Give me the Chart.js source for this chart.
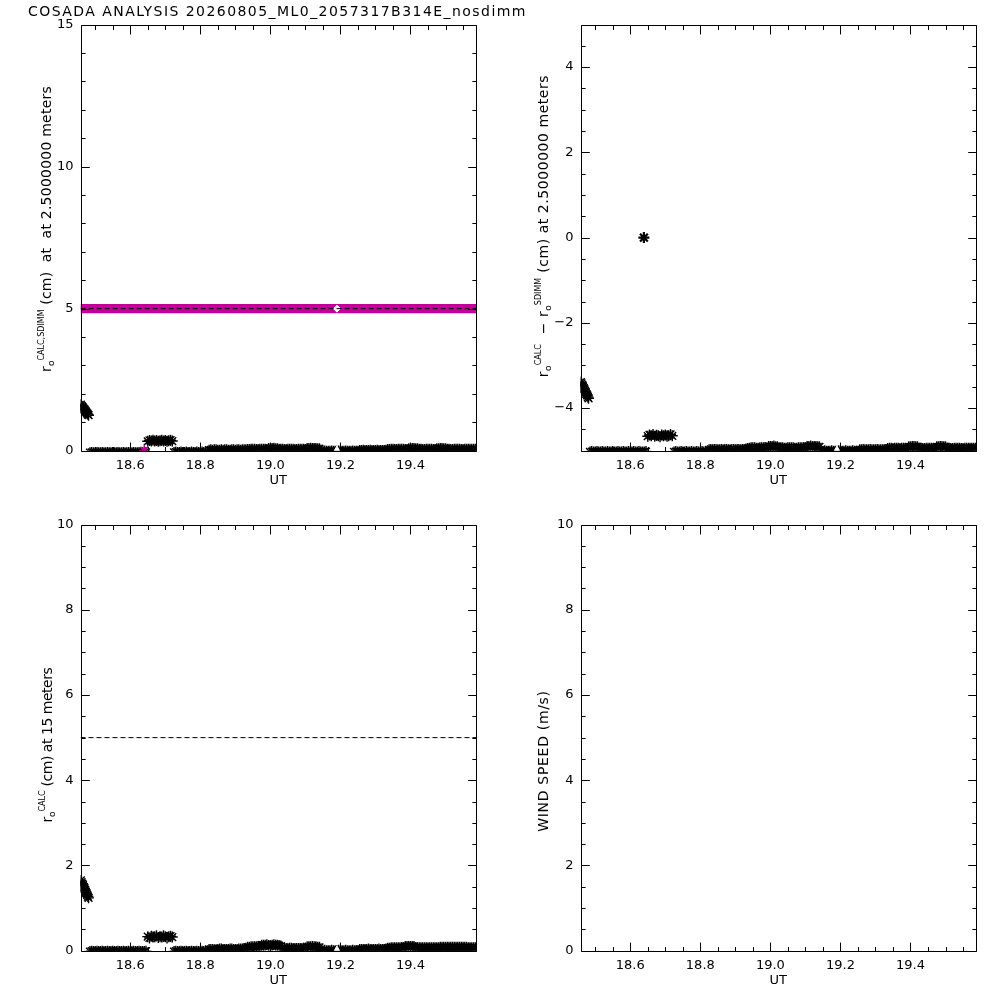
<!DOCTYPE html>
<html><head><meta charset="utf-8">
<script src="https://cdn.jsdelivr.net/npm/chart.js@4.4.1/dist/chart.umd.min.js"></script>
<style>
html,body{margin:0;padding:0;background:#fff;}
#wrap{position:relative;width:1000px;height:1000px;overflow:hidden;background:#fff;}
canvas{position:absolute;}
.lbl{position:absolute;white-space:nowrap;font-family:'DejaVu Sans',sans-serif;font-size:14px;line-height:16px;color:#000;}
.rot{transform:translate(-50%,-50%) rotate(-90deg);}
.s{position:relative;letter-spacing:0;}
.sup{top:-7px;font-size:8px;}
.sub{top:3px;font-size:9px;}
</style></head>
<body><div id="wrap">
<canvas id="c1" width="500" height="500" style="left:0;top:0"></canvas>
<canvas id="c2" width="500" height="500" style="left:500px;top:0"></canvas>
<canvas id="c3" width="500" height="500" style="left:0;top:500px"></canvas>
<canvas id="c4" width="500" height="500" style="left:500px;top:500px"></canvas>
<div id="title" class="lbl" style="left:28px;top:3px;">COSADA ANALYSIS 20260805_ML0_2057317B314E_nosdimm</div>
<div id="yl1" class="lbl rot" style="left:47px;top:229px">r<span class="s sub">o</span><span class="s sup">CALC,SDIMM</span> (cm)&nbsp; at&nbsp; at 2.5000000 meters</div>
<div id="yl2" class="lbl rot" style="left:544px;top:226px">r<span class="s sub">o</span><span class="s sup">CALC</span>&nbsp; − r<span class="s sub">o</span><span class="s sup">SDIMM</span> (cm) at 2.5000000 meters</div>
<div id="yl3" class="lbl rot" style="left:48px;top:745px">r<span class="s sub">o</span><span class="s sup">CALC</span> (cm) at 15 meters</div>
<div id="yl4" class="lbl rot" style="left:543px;top:761px">WIND SPEED (m/s)</div>
</div>
<script>
// ---------------- data ----------------
const utEarly = [18.459,18.461,18.463,18.465,18.467,18.469,18.471,18.473,18.475,18.477,18.479,18.481];
const utBand1 = [18.485,18.490,18.495,18.500,18.505,18.510,18.515,18.520,18.525,18.530,18.535,
  18.540,18.545,18.550,18.555,18.560,18.565,18.570,18.575,18.580,18.585,18.590,
  18.595,18.600,18.605,18.610,18.615,18.620,18.625,18.630,18.635,18.640,18.645];
const utCluster = [18.650,18.655,18.660,18.665,18.670,18.675,18.680,18.685,18.690,18.695,18.700,18.705,18.710,18.715,18.720];
const utBand2 = [
  18.725,18.730,18.735,18.740,18.745,18.750,18.755,18.760,18.765,18.770,18.775,18.780,18.785,18.790,18.795,18.800,18.805,18.810,18.815,18.820,
  18.825,18.830,18.835,18.840,18.845,18.850,18.855,18.860,18.865,18.870,18.875,18.880,18.885,18.890,18.895,18.900,18.905,18.910,18.915,18.920,
  18.925,18.930,18.935,18.940,18.945,18.950,18.955,18.960,18.965,18.970,18.975,18.980,18.985,18.990,18.995,19.000,19.005,19.010,19.015,19.020,
  19.025,19.030,19.035,19.040,19.045,19.050,19.055,19.060,19.065,19.070,19.075,19.080,19.085,19.090,19.095,19.100,19.105,19.110,19.115,19.120,
  19.125,19.130,19.135,19.140,19.145,19.150,19.155,19.160,19.165,19.170,19.175,19.180,19.185,19.190,19.195,19.200,19.205,19.210,19.215,19.220,
  19.225,19.230,19.235,19.240,19.245,19.250,19.255,19.260,19.265,19.270,19.275,19.280,19.285,19.290,19.295,19.300,19.305,19.310,19.315,19.320,
  19.325,19.330,19.335,19.340,19.345,19.350,19.355,19.360,19.365,19.370,19.375,19.380,19.385,19.390,19.395,19.400,19.405,19.410,19.415,19.420,
  19.425,19.430,19.435,19.440,19.445,19.450,19.455,19.460,19.465,19.470,19.475,19.480,19.485,19.490,19.495,19.500,19.505,19.510,19.515,19.520,
  19.525,19.530,19.535,19.540,19.545,19.550,19.555,19.560,19.565,19.570,19.575,19.580,19.585
];

// r0 CALC,SDIMM at 2.5 m (cm)
const r0Early25 = [1.62,1.58,1.55,1.52,1.48,1.45,1.42,1.38,1.35,1.31,1.28,1.25];
const r0Band1_25 = [-0.07,-0.06,-0.07,-0.07,-0.06,-0.07,-0.07,-0.06,-0.07,-0.07,-0.06,
  -0.07,-0.07,-0.06,-0.07,-0.07,-0.06,-0.07,-0.07,-0.06,-0.07,-0.07,
  -0.06,-0.07,-0.07,-0.06,-0.07,-0.07,-0.06,-0.07,-0.07,-0.07,-0.06];
const r0Cluster25 = [0.33,0.36,0.34,0.37,0.34,0.36,0.33,0.35,0.37,0.34,0.36,0.33,0.35,0.37,0.34];
const r0Band2_25 = [
  -0.06,-0.05,-0.06,-0.06,-0.05,-0.06,-0.06,-0.05,-0.06,-0.06,-0.05,-0.06,-0.06,-0.05,-0.06,-0.06,-0.05,-0.06,-0.05,-0.06,
  0.02,0.03,0.02,0.03,0.03,0.02,0.02,0.03,0.02,0.03,0.03,0.02,0.02,0.03,0.03,0.02,0.03,0.03,0.02,0.03,
  0.03,0.03,0.04,0.04,0.05,0.05,0.05,0.04,0.04,0.05,0.05,0.05,0.05,0.04,0.08,0.08,0.08,0.09,0.07,0.07,
  0.05,0.05,0.05,0.04,0.04,0.05,0.05,0.05,0.05,0.04,0.04,0.05,0.05,0.05,0.05,0.04,0.08,0.08,0.09,0.08,
  0.08,0.08,0.07,0.07,-0.02,-0.02,-0.01,-0.02,-0.02,-0.02,-0.01,-0.02,-0.02,-0.02,-0.01,-0.02,-0.02,-0.02,-0.01,-0.02,
  -0.02,-0.02,-0.01,-0.02,-0.02,-0.02,0.01,0.01,0.02,0.01,0.01,0.01,0.02,0.01,0.01,0.01,0.02,0.01,0.01,0.01,
  0.01,0.02,0.04,0.04,0.05,0.05,0.04,0.04,0.05,0.05,0.05,0.05,0.04,0.04,0.07,0.07,0.08,0.08,0.07,0.07,
  0.05,0.05,0.04,0.04,0.05,0.05,0.05,0.05,0.04,0.04,0.07,0.07,0.08,0.08,0.07,0.07,0.05,0.05,0.04,0.04,
  0.05,0.05,0.05,0.05,0.04,0.04,0.05,0.05,0.05,0.05,0.05,0.05,0.05
];

// r0 CALC - r0 SDIMM at 2.5 m (cm)
const diffEarly = [-3.39,-3.42,-3.46,-3.49,-3.53,-3.56,-3.60,-3.63,-3.67,-3.70,-3.74,-3.77];
const diffBand1 = [-5.03,-5.02,-5.03,-5.03,-5.02,-5.03,-5.03,-5.02,-5.03,-5.03,-5.02,
  -5.03,-5.03,-5.02,-5.03,-5.03,-5.02,-5.03,-5.03,-5.02,-5.03,-5.03,
  -5.02,-5.03,-5.03,-5.02,-5.03,-5.03,-5.02,-5.03,-5.03,-5.03,-5.02];
const diffCluster = [-4.66,-4.63,-4.65,-4.62,-4.66,-4.64,-4.65,-4.67,-4.63,-4.65,-4.63,-4.66,-4.65,-4.62,-4.65];
const diffBand2 = [
  -5.03,-5.02,-5.03,-5.03,-5.02,-5.03,-5.03,-5.02,-5.03,-5.03,-5.02,-5.03,-5.03,-5.02,-5.03,-5.03,-5.02,-5.03,-5.02,-5.03,
  -4.98,-4.97,-4.98,-4.97,-4.97,-4.98,-4.98,-4.97,-4.98,-4.97,-4.97,-4.98,-4.98,-4.97,-4.97,-4.98,-4.97,-4.97,-4.98,-4.97,
  -4.97,-4.96,-4.95,-4.94,-4.93,-4.93,-4.93,-4.94,-4.94,-4.93,-4.93,-4.93,-4.93,-4.94,-4.90,-4.90,-4.90,-4.89,-4.91,-4.91,
  -4.93,-4.93,-4.93,-4.94,-4.94,-4.93,-4.93,-4.93,-4.93,-4.94,-4.94,-4.93,-4.93,-4.93,-4.93,-4.94,-4.90,-4.90,-4.89,-4.90,
  -4.90,-4.90,-4.91,-4.91,-5.01,-5.01,-5.00,-5.01,-5.01,-5.01,-5.00,-5.01,-5.01,-5.01,-5.00,-5.01,-5.01,-5.01,-5.00,-5.01,
  -5.01,-5.01,-5.00,-5.01,-5.01,-5.01,-4.98,-4.98,-4.97,-4.98,-4.98,-4.98,-4.97,-4.98,-4.98,-4.98,-4.97,-4.98,-4.98,-4.98,
  -4.98,-4.97,-4.95,-4.94,-4.94,-4.95,-4.94,-4.94,-4.94,-4.95,-4.94,-4.94,-4.95,-4.95,-4.91,-4.91,-4.90,-4.90,-4.91,-4.91,
  -4.94,-4.94,-4.95,-4.95,-4.94,-4.94,-4.94,-4.94,-4.95,-4.95,-4.91,-4.91,-4.90,-4.90,-4.91,-4.91,-4.94,-4.94,-4.95,-4.95,
  -4.94,-4.94,-4.94,-4.94,-4.95,-4.95,-4.94,-4.94,-4.94,-4.94,-4.94,-4.94,-4.94
];

// r0 CALC at 15 m (cm)
const r0Early15 = [1.65,1.61,1.57,1.54,1.50,1.46,1.42,1.38,1.35,1.31,1.27,1.24];
const r0Band1_15 = [-0.02,-0.01,-0.02,-0.02,-0.01,-0.02,-0.02,-0.01,-0.02,-0.02,-0.01,
  -0.02,-0.02,-0.01,-0.02,-0.02,-0.01,-0.02,-0.02,-0.01,-0.02,-0.02,
  -0.01,-0.02,-0.02,-0.01,-0.02,-0.02,-0.01,-0.02,-0.02,-0.02,-0.01];
const r0Cluster15 = [0.33,0.30,0.34,0.32,0.33,0.35,0.31,0.33,0.32,0.35,0.33,0.30,0.33,0.34,0.32];
const r0Band2_15 = [
  -0.02,-0.01,-0.02,-0.02,-0.01,-0.02,-0.02,-0.01,-0.02,-0.02,-0.01,-0.02,-0.02,-0.01,-0.02,-0.02,-0.01,-0.02,-0.01,-0.02,
  0.03,0.03,0.03,0.02,0.02,0.03,0.04,0.04,0.03,0.03,0.03,0.03,0.04,0.04,0.03,0.03,0.03,0.04,0.04,0.04,
  0.05,0.06,0.08,0.08,0.09,0.09,0.09,0.09,0.10,0.10,0.13,0.13,0.13,0.14,0.12,0.12,0.13,0.14,0.13,0.13,
  0.12,0.11,0.05,0.05,0.05,0.05,0.06,0.06,0.05,0.05,0.05,0.05,0.05,0.05,0.06,0.06,0.09,0.09,0.09,0.10,
  0.09,0.09,0.08,0.08,0.00,0.00,0.01,0.00,0.00,0.00,0.01,0.00,0.00,0.00,0.01,0.00,0.00,0.00,0.01,0.00,
  0.00,0.00,0.01,0.00,0.00,0.00,0.03,0.03,0.03,0.03,0.03,0.04,0.03,0.03,0.03,0.03,0.03,0.04,0.03,0.03,
  0.03,0.04,0.06,0.06,0.07,0.07,0.07,0.07,0.07,0.07,0.07,0.07,0.10,0.10,0.10,0.10,0.10,0.10,0.07,0.07,
  0.07,0.07,0.07,0.07,0.07,0.07,0.07,0.07,0.07,0.07,0.07,0.07,0.08,0.08,0.08,0.08,0.08,0.08,0.08,0.08,
  0.08,0.08,0.08,0.08,0.08,0.08,0.08,0.08,0.07,0.07,0.07,0.07,0.07
];
const windUT = [];
const windSpeed = [];

const utRange = [18.458, 19.587];
const utTicks = [18.6, 18.8, 19.0, 19.2, 19.4];
const r0Ticks25 = [0, 5, 10, 15];
const diffTicks = [-4, -2, 0, 2, 4];
const r0Ticks15 = [0, 2, 4, 6, 8, 10];
const windTicks = [0, 2, 4, 6, 8, 10];

const r0SdimmLevel = 5;     // magenta SDIMM band (panel 1)
const r0RefLevel = 5;       // dashed reference line
const sdimmPointUT = [18.64], sdimmPointR0 = [0];
const diffSpikeUT = [18.639], diffSpikeVal = [0];
const markUT = [19.19];
const markR0 = [0.06], markDiff = [-4.96], mark15 = [0.04], markSdimm = [5];

// ---------------- helpers ----------------
const utHours = [].concat(utEarly, utBand1, utCluster, utBand2);
const r0CalcSdimm25 = [].concat(r0Early25, r0Band1_25, r0Cluster25, r0Band2_25);
const r0Diff25 = [].concat(diffEarly, diffBand1, diffCluster, diffBand2);
const r0Calc15 = [].concat(r0Early15, r0Band1_15, r0Cluster15, r0Band2_15);

const pts = (xs, ys) => xs.map((x, i) => ({x: x, y: ys[i]}));
const FONT = "'DejaVu Sans', sans-serif";
Chart.defaults.font.family = FONT;
Chart.defaults.color = '#000';
const magenta = 'rgb(196,0,156)';

const idlFrame = {
  id: 'idlFrame',
  afterDatasetsDraw(chart, args, o) {
    const {ctx, chartArea: a} = chart;
    const xs = chart.scales.x, ys = chart.scales.y;
    ctx.save();
    ctx.strokeStyle = '#000'; ctx.lineWidth = 1;
    const L = Math.round(a.left) + 0.5, R = Math.round(a.right) + 0.5;
    const T = Math.round(a.top) + 0.5, B = Math.round(a.bottom) + 0.5;
    ctx.beginPath();
    ctx.rect(L, T, R - L, B - T);
    const xl = 0.021 * (B - T), yl = 0.021 * (R - L);
    const line = (x1, y1, x2, y2) => { ctx.moveTo(x1, y1); ctx.lineTo(x2, y2); };
    const xMin = xs.min, xMax = xs.max;
    const doX = (v, len) => { const p = Math.round(xs.getPixelForValue(v)) + 0.5; line(p, B, p, B - len); line(p, T, p, T + len); };
    const doY = (v, len) => { const p = Math.round(ys.getPixelForValue(v)) + 0.5; line(L, p, L + len, p); line(R, p, R - len, p); };
    o.xMajor.forEach(v => doX(v, xl));
    for (let k = Math.ceil(xMin / o.xMinor - 1e-9); k * o.xMinor <= xMax + 1e-9; k++) {
      const v = k * o.xMinor;
      if (!o.xMajor.some(m => Math.abs(m - v) < 1e-6)) doX(v, xl / 2);
    }
    o.yMajor.forEach(v => doY(v, yl));
    for (let k = Math.ceil(ys.min / o.yMinor - 1e-9); k * o.yMinor <= ys.max + 1e-9; k++) {
      const v = k * o.yMinor;
      if (!o.yMajor.some(m => Math.abs(m - v) < 1e-6)) doY(v, yl / 2);
    }
    ctx.stroke();
    ctx.restore();
  }
};

function fmt(v) { return v < 0 ? '\u2212' + Math.abs(v) : String(v); }

function makePanel(id, yMin, yMax, yTicks, yMinor, datasets) {
  return new Chart(document.getElementById(id), {
    type: 'scatter',
    data: {datasets: datasets},
    plugins: [idlFrame],
    options: {
      responsive: false, animation: false, devicePixelRatio: 1, events: [],
      layout: {padding: {top: 24.5, right: 24, left: 0, bottom: 0}},
      plugins: {legend: {display: false}, tooltip: {enabled: false},
        idlFrame: {xMajor: utTicks, xMinor: 0.05, yMajor: yTicks, yMinor: yMinor}},
      scales: {
        x: {type: 'linear', min: utRange[0], max: utRange[1],
          afterFit: s => { s.height = 49.3; },
          afterBuildTicks: s => { s.ticks = utTicks.map(v => ({value: v})); },
          ticks: {callback: v => v.toFixed(1), padding: 7.5, maxRotation: 0, autoSkip: false,
            color: '#000', font: {family: FONT, size: 13}},
          title: {display: true, text: 'UT', color: '#000', font: {family: FONT, size: 13}, padding: {top: 0, bottom: 12}},
          grid: {display: false, drawTicks: false}, border: {display: false}},
        y: {type: 'linear', min: yMin, max: yMax,
          afterFit: s => { s.width = 80.5; },
          afterBuildTicks: s => { s.ticks = yTicks.map(v => ({value: v})); },
          ticks: {callback: v => fmt(v), padding: 7, autoSkip: false, color: '#000',
            font: {family: FONT, size: 13}},
          grid: {display: false, drawTicks: false}, border: {display: false}}
      }
    }
  });
}

const star = (data, color, width, order) => ({data: data, showLine: false, pointStyle: 'star',
  pointRadius: 5.5, pointBorderColor: color, pointBackgroundColor: color, pointBorderWidth: width, clip: 0, order: order});
const hline = (level, color, width, dash, order) => ({data: pts(utRange, [level, level]), showLine: true,
  borderColor: color, borderWidth: width, borderDash: dash, pointRadius: 0, clip: 0, order: order});
const mark = (data, style, r, order) => ({data: data, showLine: false, pointStyle: style, pointRadius: r,
  pointBorderColor: '#fff', pointBackgroundColor: '#fff', pointBorderWidth: 1, clip: 0, order: order});

makePanel('c1', 0, 15, r0Ticks25, 1, [
  hline(r0SdimmLevel, magenta, 9.3, [], 10),
  mark(pts(markUT, markSdimm), 'rectRot', 3.5, 9),
  hline(r0RefLevel, '#000', 1, [5, 3], 8),
  star(pts(utHours, r0CalcSdimm25), '#000', 1.4, 5),
  star(pts(sdimmPointUT, sdimmPointR0), magenta, 1.6, 3),
  mark(pts(markUT, markR0), 'triangle', 3, 1)
]);
makePanel('c2', -5, 5, diffTicks, 0.5, [
  star(pts(utHours, r0Diff25), '#000', 1.4, 5),
  star(pts(diffSpikeUT, diffSpikeVal), '#000', 2.2, 3),
  mark(pts(markUT, markDiff), 'triangle', 3, 1)
]);
makePanel('c3', 0, 10, r0Ticks15, 0.5, [
  hline(r0RefLevel, '#000', 1, [5, 3], 8),
  star(pts(utHours, r0Calc15), '#000', 1.4, 5),
  mark(pts(markUT, mark15), 'triangle', 3, 1)
]);
makePanel('c4', 0, 10, windTicks, 0.5, [
  star(pts(windUT, windSpeed), '#000', 1.4, 5)
]);

// fit label lengths to the reference layout
function fit(id, target) {
  const el = document.getElementById(id);
  el.style.letterSpacing = '0px';
  const w0 = el.offsetWidth;
  el.style.letterSpacing = '1px';
  const w1 = el.offsetWidth;
  const ls = (w1 > w0) ? (target - w0) / (w1 - w0) : 0;
  el.style.letterSpacing = ls.toFixed(3) + 'px';
}
function fitAll() {
  fit('title', 499);
  fit('yl1', 286);
  fit('yl2', 302);
  fit('yl3', 155);
  fit('yl4', 142);
}
fitAll();
if (document.fonts && document.fonts.ready) document.fonts.ready.then(fitAll);
</script>
</body></html>
